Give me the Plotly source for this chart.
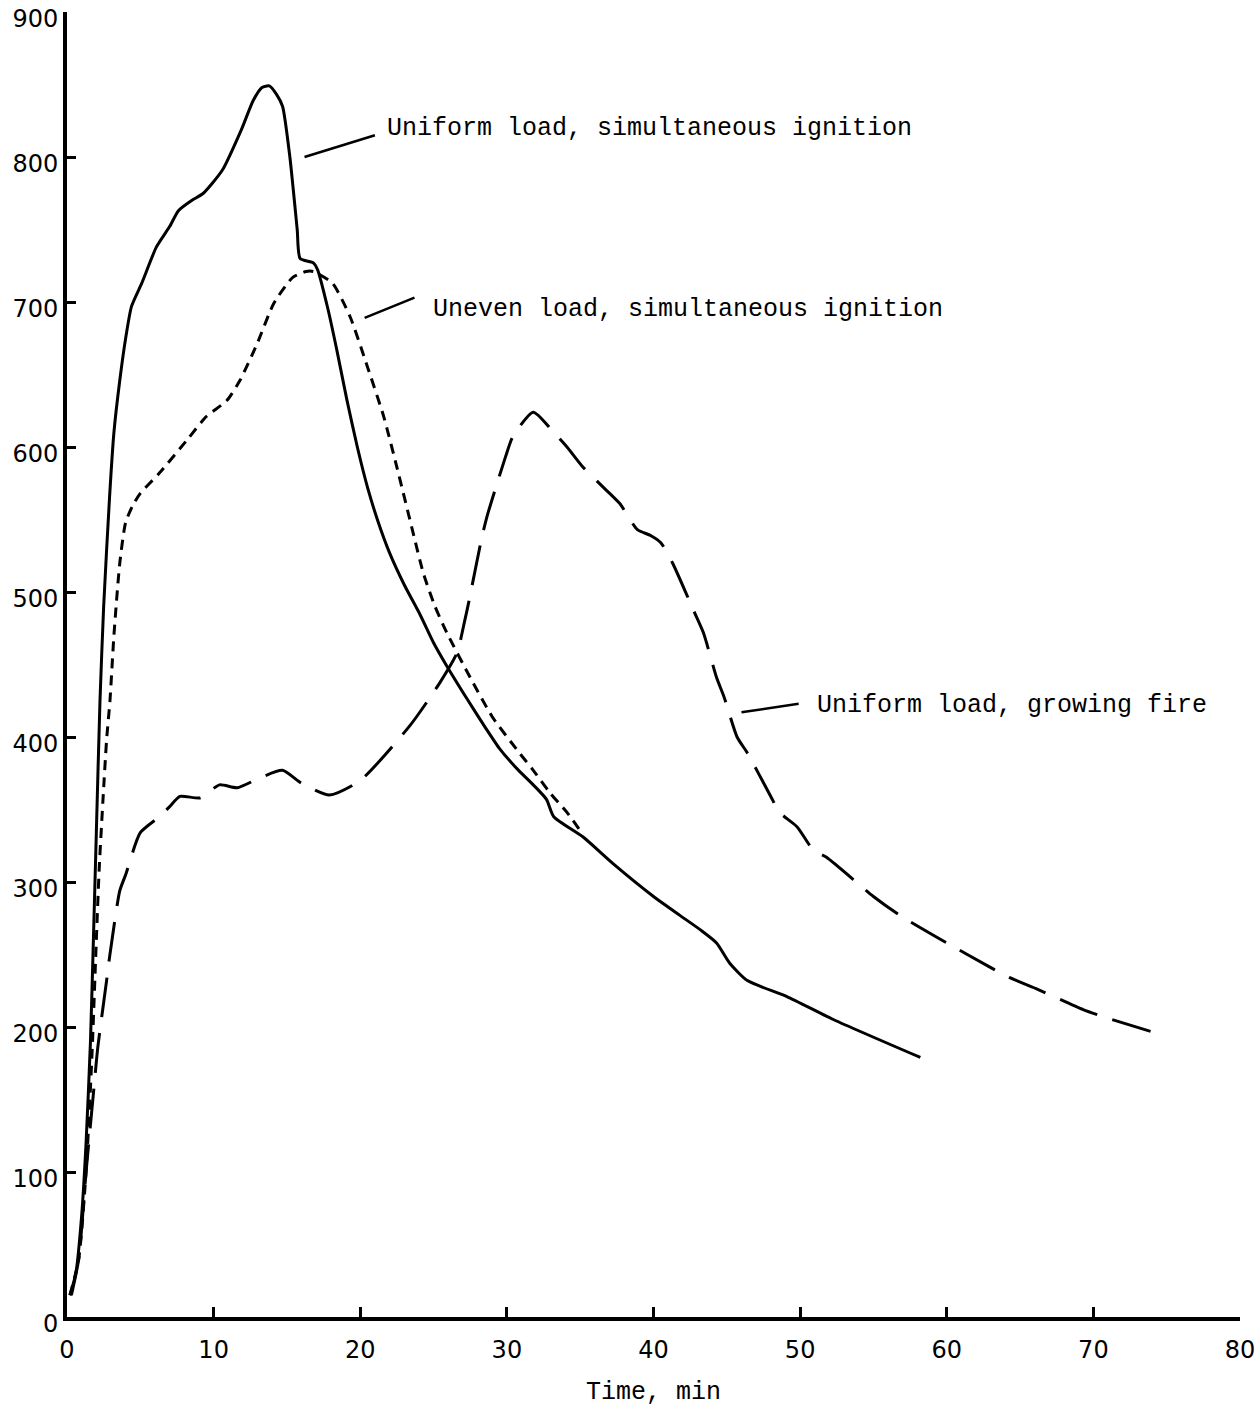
import plotly.graph_objects as go

# Uniform load, simultaneous ignition (solid)
uni_sim_x = [0.2, 0.6, 1.0, 1.3, 1.6, 1.8, 2.0, 2.25, 2.5, 2.9, 3.2, 3.6, 4.0, 4.4, 5.1, 6.1, 7.0, 7.6,
             8.5, 9.3, 10.6, 11.9, 12.7, 13.3, 13.8, 14.3, 14.7, 15.2, 15.7, 15.9, 16.8, 17.1, 17.8, 18.4,
             19.1, 19.8, 20.5, 21.2, 22.0, 23.0, 24.1, 25.0, 25.9, 27.3, 28.5, 29.5, 30.7, 31.8, 32.7,
             33.2, 35.2, 37.2, 40.0, 41.8, 43.2, 44.3, 45.2, 46.4, 49.1, 52.3, 58.2]
uni_sim_y = [15, 30, 70, 120, 190, 260, 334, 425, 490, 565, 610, 646, 675, 697, 713, 738, 752, 763,
             770, 775, 791, 819, 839, 848, 849, 843, 835, 800, 750, 730, 727, 722, 695, 667,
             632, 600, 572, 549, 527, 505, 484, 465, 449, 426, 407, 392, 378, 367, 357,
             345, 331, 313, 290, 277, 267, 258, 244, 232, 221, 205, 179]

# Uneven load, simultaneous ignition (short dashes)
unev_sim_x = [0.2, 0.8, 1.3, 1.7, 2.0, 2.2, 2.45, 2.7, 2.93, 3.2, 3.6, 4.0, 4.5, 5.0, 6.3, 8.2, 9.5,
              10.9, 11.8, 13.0, 14.1, 15.4, 16.3, 16.8, 18.1, 19.3, 20.5, 21.6, 22.5, 23.6, 24.3,
              25.1, 25.9, 27.5, 29.0, 30.7, 31.8, 32.9, 34.1, 35.1]
unev_sim_y = [15, 40, 100, 180, 260, 310, 356, 398, 425, 470, 520, 548, 560, 568, 582, 605, 621,
              632, 646, 672, 699, 717, 721, 721, 713, 690, 655, 621, 586, 541, 513,
              490, 472, 441, 414, 391, 377, 362, 348, 334]

# Uniform load, growing fire (long dashes)
grow_x = [0.3, 0.8, 1.3, 1.8, 2.1, 2.7, 2.9, 3.6, 4.0, 5.0, 6.3, 7.0, 7.7, 9.1, 10.4, 11.6, 13.2,
          14.7, 16.0, 17.9, 20.0, 23.4, 25.4, 26.6, 27.1, 27.4, 28.3, 28.7, 29.9, 30.4, 31.8, 33.2,
          34.1, 35.2, 36.6, 37.7, 38.9, 39.8, 40.5, 41.3, 42.7, 43.4, 44.3, 44.8, 45.7, 46.4, 48.0,
          48.6, 49.8, 50.9, 51.8, 55.0, 56.8, 60.0, 61.4, 64.3, 66.2, 69.3, 70.7, 73.9]
grow_y = [15, 40, 100, 154, 186, 232, 248, 294, 305, 334, 345, 352, 359, 358, 367, 365, 372,
          377, 368, 360, 370, 408, 437, 458, 479, 493, 538, 554, 593, 607, 624, 610,
          600, 586, 572, 561, 543, 539, 534, 520, 488, 472, 441, 428, 400, 389, 359,
          348, 338, 322, 317, 290, 277, 258, 250, 234, 226, 212, 207, 197]

x_ticks = [0, 10, 20, 30, 40, 50, 60, 70, 80]
y_ticks = [0, 100, 200, 300, 400, 500, 600, 700, 800, 900]

labels = ["Uniform load, simultaneous ignition",
          "Uneven load, simultaneous ignition",
          "Uniform load, growing fire"]
label_x = [21.7, 24.8, 51.0]
label_y = [820, 695, 422]
leader_x0 = [16.2, 20.3, 46.0]
leader_y0 = [800, 689, 417]
leader_x1 = [21.0, 23.7, 49.9]
leader_y1 = [815, 703, 423]

fig = go.Figure()
fig.add_trace(go.Scatter(x=uni_sim_x, y=uni_sim_y, mode="lines",
                         line=dict(color="black", width=3, shape="spline", smoothing=0.6)))
fig.add_trace(go.Scatter(x=unev_sim_x, y=unev_sim_y, mode="lines",
                         line=dict(color="black", width=3, dash="10px,7px", shape="spline", smoothing=0.6)))
fig.add_trace(go.Scatter(x=grow_x, y=grow_y, mode="lines",
                         line=dict(color="black", width=3, dash="40px,16px", shape="spline", smoothing=0.6)))

mono = dict(family="Liberation Mono, Courier New, monospace", size=25, color="black")
for t, x, y, a, b, c, d in zip(labels, label_x, label_y, leader_x0, leader_y0, leader_x1, leader_y1):
    fig.add_annotation(x=x, y=y, text=t, showarrow=False, xanchor="left", yanchor="middle", font=mono)
    fig.add_shape(type="line", x0=a, y0=b, x1=c, y1=d, line=dict(color="black", width=2.5))

fig.update_layout(
    width=1260, height=1411,
    margin=dict(l=67, r=20, t=12, b=94),
    paper_bgcolor="white", plot_bgcolor="white",
    showlegend=False,
    xaxis=dict(range=[0, 80], tickvals=x_ticks, ticks="inside", ticklen=10, tickwidth=3,
               tickcolor="black", showline=True, linewidth=4, linecolor="black",
               showgrid=False, zeroline=False, ticklabelstandoff=8, ticklabeloverflow="allow",
               automargin=False,
               tickfont=dict(family="DejaVu Sans", size=24, color="black"),
               title=dict(text="Time, min", font=mono, standoff=20)),
    yaxis=dict(range=[0, 900], tickvals=y_ticks, ticks="inside", ticklen=9, tickwidth=3,
               tickcolor="black", showline=True, linewidth=4, linecolor="black",
               showgrid=False, zeroline=False, ticklabeloverflow="allow", automargin=False,
               ticklabelshift=7,
               tickfont=dict(family="DejaVu Sans", size=24, color="black")),
)

fig.write_html("out.html")
